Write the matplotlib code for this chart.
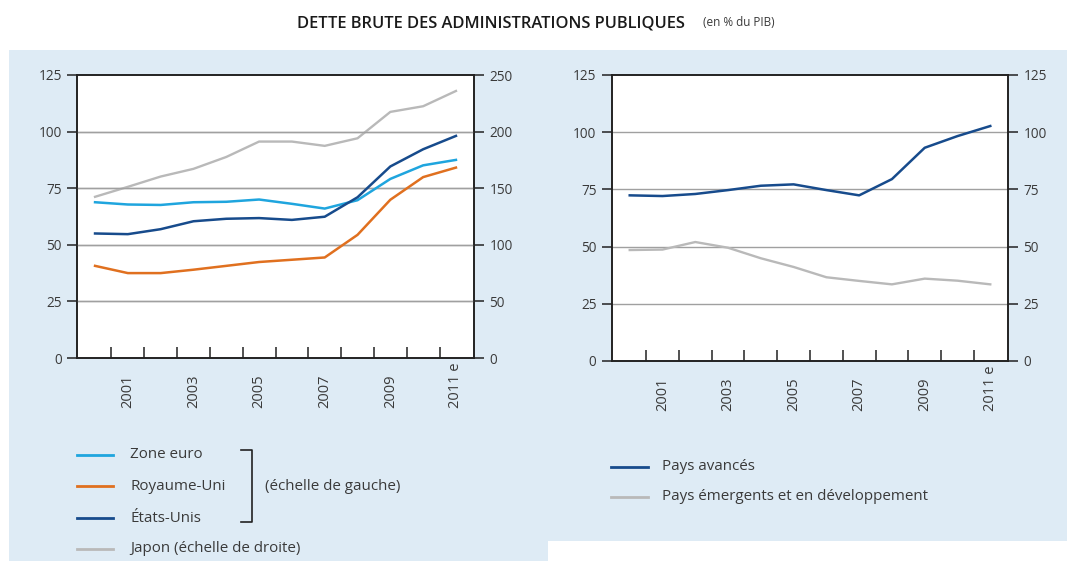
import matplotlib
matplotlib.use("Agg")
import matplotlib.pyplot as plt
from matplotlib.patches import Rectangle
from matplotlib.lines import Line2D

plt.rcParams['font.family'] = ['Open Sans', 'DejaVu Sans']

years = [2000, 2001, 2002, 2003, 2004, 2005, 2006, 2007, 2008, 2009, 2010, 2011]
tick_years = [2001, 2003, 2005, 2007, 2009, 2011]
tick_labels = ["2001", "2003", "2005", "2007", "2009", "2011 e"]

zone_euro = [68.8, 67.8, 67.6, 68.8, 69.0, 70.0, 68.1, 66.0, 69.7, 79.1, 85.1, 87.5]
royaume_uni = [40.7, 37.5, 37.5, 39.0, 40.7, 42.4, 43.4, 44.4, 54.4, 69.9, 79.9, 84.1]
etats_unis = [55.0, 54.7, 56.9, 60.4, 61.5, 61.8, 61.0, 62.4, 71.0, 84.6, 92.2, 98.1]
japon = [142.4, 151.2, 160.3, 167.1, 177.6, 191.2, 191.2, 187.4, 194.1, 217.4, 222.4, 235.9]

pays_avances = [72.4, 72.1, 73.0, 74.7, 76.6, 77.2, 74.7, 72.4, 79.5, 93.2, 98.3, 102.7]
pays_emergents = [48.5, 48.7, 52.0, 49.5, 44.9, 41.1, 36.6, 35.0, 33.5, 36.0, 35.1, 33.5]

C_EURO = "#1fa5de"
C_UK = "#e0701f"
C_US = "#174b8c"
C_JP = "#b9b9b9"
BG = "#deebf5"
TXT = "#3a3a3a"
SPINE = "#222222"
GRID = "#a0a0a0"

W, H = 1067, 561
fig = plt.figure(figsize=(W / 100, H / 100), dpi=100, facecolor="white")


def fx(px):
    return px / W


def fy(py):
    return 1 - py / H


# background panels
fig.add_artist(Rectangle((fx(9), fy(561)), fx(548) - fx(9), fy(50) - fy(561),
                         transform=fig.transFigure, facecolor=BG, edgecolor="none", zorder=-10))
fig.add_artist(Rectangle((fx(548), fy(541)), fx(1067) - fx(548), fy(50) - fy(541),
                         transform=fig.transFigure, facecolor=BG, edgecolor="none", zorder=-10))

# title
fig.text(fx(297), fy(23), "DETTE BRUTE DES ADMINISTRATIONS PUBLIQUES", fontsize=11.9,
         fontweight="semibold", color="#1a1a1a", ha="left", va="center")
fig.text(fx(703), fy(22), "(en % du PIB)", fontsize=8.5, color=TXT, ha="left", va="center")


def style_axis(ax, ymax, right_ymax):
    ax.set_facecolor("white")
    ax.set_xlim(1999.45, 2011.55)
    ax.set_ylim(0, ymax)
    ax.set_yticks([0, ymax * 0.2, ymax * 0.4, ymax * 0.6, ymax * 0.8, ymax])
    ax.set_yticklabels([f"{int(v)}" for v in ax.get_yticks()])
    for y in [ymax * 0.2, ymax * 0.4, ymax * 0.6, ymax * 0.8]:
        ax.axhline(y, color=GRID, lw=1.0, zorder=1)
    for s in ax.spines.values():
        s.set_color(SPINE)
        s.set_linewidth(1.2)
    ax.tick_params(axis="y", direction="out", length=7, width=1.1, color=SPINE,
                   labelsize=9.8, labelcolor=TXT, pad=4)
    ax.set_xticks(tick_years)
    ax.set_xticklabels(tick_labels, rotation=90, va="bottom", ha="center")
    ax.set_xticks([y + 0.5 for y in years[:-1]], minor=True)
    ax.tick_params(axis="x", which="major", length=0, labelsize=10.5, labelcolor=TXT, pad=36)
    ax.tick_params(axis="x", which="minor", direction="in", length=8, width=1.1, color=SPINE)
    tw = ax.twinx()
    tw.set_ylim(0, right_ymax)
    tw.set_yticks([0, right_ymax * 0.2, right_ymax * 0.4, right_ymax * 0.6, right_ymax * 0.8, right_ymax])
    tw.set_yticklabels([f"{int(v)}" for v in tw.get_yticks()])
    tw.tick_params(axis="y", direction="out", length=7, width=1.1, color=SPINE,
                   labelsize=9.8, labelcolor=TXT, pad=4)
    for s in tw.spines.values():
        s.set_color(SPINE)
        s.set_linewidth(1.2)
    return tw


# left chart
axL = fig.add_axes([fx(77), fy(358), fx(474) - fx(77), fy(75) - fy(358)])
twL = style_axis(axL, 125, 250)
twL.plot(years, japon, color=C_JP, lw=1.7, zorder=3)
axL.plot(years, zone_euro, color=C_EURO, lw=1.8, zorder=3)
axL.plot(years, royaume_uni, color=C_UK, lw=1.8, zorder=3)
axL.plot(years, etats_unis, color=C_US, lw=1.8, zorder=4)
axL.set_zorder(twL.get_zorder() + 1)
axL.patch.set_visible(False)
twL.patch.set_visible(True)
twL.patch.set_facecolor("white")
for y in [50, 100, 150, 200]:
    twL.axhline(y, color=GRID, lw=1.0, zorder=1)

# right chart
axR = fig.add_axes([fx(611.7), fy(361), fx(1008.3) - fx(611.7), fy(75) - fy(361)])
twR = style_axis(axR, 125, 125)
axR.plot(years, pays_avances, color=C_US, lw=1.8, zorder=4)
axR.plot(years, pays_emergents, color=C_JP, lw=1.7, zorder=3)

# legend left
legL = [("Zone euro", C_EURO, 455), ("Royaume-Uni", C_UK, 486),
        ("États-Unis", C_US, 518), ("Japon (échelle de droite)", C_JP, 549)]
for lab, c, py in legL:
    fig.add_artist(Line2D([fx(77), fx(113)], [fy(py), fy(py)], color=c, lw=2.0,
                          transform=fig.transFigure))
    fig.text(fx(130), fy(py), lab, fontsize=10.9, color=TXT, ha="left", va="center")
fig.add_artist(Line2D([fx(241), fx(252), fx(252), fx(241)],
                      [fy(450), fy(450), fy(522), fy(522)], color=SPINE, lw=1.2,
                      transform=fig.transFigure))
fig.text(fx(265), fy(486), "(échelle de gauche)", fontsize=10.9, color=TXT, ha="left", va="center")

# legend right
legR = [("Pays avancés", C_US, 467), ("Pays émergents et en développement", C_JP, 497)]
for lab, c, py in legR:
    fig.add_artist(Line2D([fx(611), fx(648)], [fy(py), fy(py)], color=c, lw=2.0,
                          transform=fig.transFigure))
    fig.text(fx(662), fy(py), lab, fontsize=10.9, color=TXT, ha="left", va="center")

fig.savefig("out.png", dpi=100, facecolor="white")
